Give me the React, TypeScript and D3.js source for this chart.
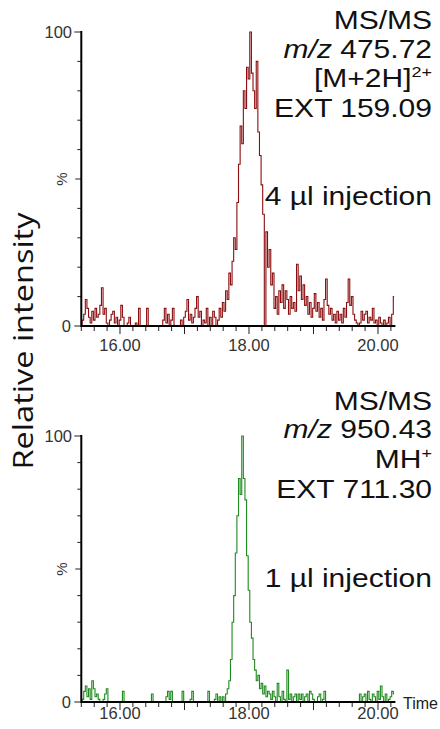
import React from "react"
import * as d3 from "d3"

// scan grid of the chromatogram (min)
const scanStart = 15.4
const scanStep = 0.025

// MS/MS m/z 475.72, % relative intensity per scan
const topIntensity = [
  0, 2, 4, 9, 6, 3, 1, 5, 2, 6, 3, 4, 7, 13, 4, 6, 1, 0, 2, 4,
  5, 1, 3, 0, 2, 7, 3, 0, 0, 1, 3, 0, 0, 0, 1, 0, 6, 0, 0, 0,
  0, 6, 0, 0, 0, 0, 0, 0, 0, 0, 0, 2, 6, 1, 4, 0, 2, 6, 0, 0,
  0, 0, 2, 0, 3, 5, 9, 2, 4, 1, 3, 6, 10, 3, 5, 0, 2, 1, 6, 0,
  3, 0, 5,
  3, 0, 2, 6, 3, 8, 5, 12, 9, 18, 14, 22, 30, 26, 42, 55, 68, 62, 80, 74,
  88, 84, 100, 86, 80, 74, 90, 66, 58, 48, 38, 0,
  32, 20, 26, 14, 18, 6, 10, 4, 12, 8, 14, 6, 12, 9, 4, 10, 6, 8, 5, 21,
  12, 17, 9, 14, 7, 10, 4, 8, 3, 6, 11, 5, 8, 3, 6, 2, 9, 16, 7, 4,
  6, 2, 4, 1, 5, 2, 4, 1, 6, 3, 8, 16, 7, 10, 4, 2, 1, 0, 1, 5,
  2, 4, 5, 1, 3, 2, 6, 1, 2, 0, 3, 1, 0, 2, 0, 1, 3, 0, 4, 10,
]

// MS/MS m/z 950.43
const bottomIntensity = [
  0, 1, 4, 6, 2, 5, 1, 8, 5, 2, 3, 1, 0, 0, 1, 3, 5, 0, 0, 0,
  0, 0, 0, 0, 0, 0, 4, 0, 0, 0, 0, 0, 0, 0, 0, 0, 0, 0, 0, 0,
  0, 0, 0, 0, 3, 0, 0, 0, 0, 0, 0, 0, 0, 2, 4, 1, 4, 0, 0, 0,
  0, 0, 0, 4, 0, 0, 0, 0, 1, 4, 0, 0, 0, 0, 0, 0, 0, 0, 0, 4,
  0, 0, 0, 1, 3, 0, 2, 0,
  2, 0, 3, 5, 8, 16, 30, 40, 56, 70, 84, 78, 100, 84, 76, 55, 42, 30, 24, 16,
  12, 8, 10, 5, 7, 3, 6,
  2, 4, 3, 1, 4, 2, 0, 7, 2, 0, 4, 1, 0, 12, 1, 3, 0, 2, 3, 0,
  3, 1, 3, 0, 2, 3, 0, 4, 3, 1, 0, 0, 2, 3, 0, 1, 4, 0, 0, 0,
  0, 0, 0, 0, 0, 0, 0, 0, 0, 0, 0, 0, 0, 0, 0, 0, 0, 0, 3, 0,
  2, 3, 0, 4, 1, 0, 3, 2, 0, 4, 1, 6, 2, 0, 3, 0, 1, 2, 4, 3,
]

const xLabelTicks = [16, 18, 20]
const xMajorTicks = [16, 17, 18, 19, 20]

const tickFont = "'Liberation Sans', Arial, sans-serif"
const textFont = "'Liberation Sans', Arial, sans-serif"

const x = d3.scaleLinear().domain([15.4, 20.27]).range([81.3, 395.4])

function Panel({ values, color, y0, y100, lines, showTime, labelDy }: any) {
  const y = d3.scaleLinear().domain([0, 100]).range([y0, y100])
  const line = d3.line<number>()
    .x((d, i) => x(scanStart + i * scanStep))
    .y((d) => y(d))
    .curve(d3.curveStep)
  const minor = d3.range(77, 102).map((k) => k / 5)
  const yTicks = d3.range(0, 101, 10)
  const [xa, xb] = x.range()
  return (
    <g>
      <path d={line(values) || ""} fill="none" stroke={color} strokeWidth={1.1} />
      {/* y axis */}
      {yTicks.map((t) => {
        const len = t === 0 || t === 100 ? 7 : t === 50 ? 6 : 4
        return <line key={t} x1={xa - len} x2={xa} y1={y(t)} y2={y(t)} stroke="#222" strokeWidth={1} />
      })}
      <line x1={xa} x2={xa} y1={y(100) - 1} y2={y0 + 1} stroke="#000" strokeWidth={2} />
      <text x={72} y={y(100) + 6} textAnchor="end" fontFamily={tickFont} fontSize={16.5} fill="#333">100</text>
      <text x={71} y={y(0) + 6} textAnchor="end" fontFamily={tickFont} fontSize={16.5} fill="#333">0</text>
      <text transform={`translate(67,${y(50)}) rotate(-90)`} textAnchor="middle" fontFamily={tickFont} fontSize={15} fill="#333">%</text>
      {/* x axis */}
      {minor.map((t) => {
        const major = xMajorTicks.some((m) => Math.abs(m - t) < 1e-6)
        return <line key={t} x1={x(t)} x2={x(t)} y1={y0} y2={y0 + (major ? 8 : 5)} stroke="#222" strokeWidth={1} />
      })}
      <line x1={xa} x2={xb} y1={y0} y2={y0} stroke="#000" strokeWidth={2} />
      {xLabelTicks.map((t) => (
        <text key={t} x={x(t)} y={y0 + labelDy} textAnchor="middle" fontFamily={tickFont} fontSize={16.5} fill="#333">
          {d3.format(".2f")(t)}
        </text>
      ))}
      {showTime && (
        <text x={403} y={y0 + 7} fontFamily={tickFont} fontSize={16} fill="#222">Time</text>
      )}
      {lines.map((l: any, i: number) => (
        <text key={i} transform={`translate(432,${l.y}) scale(1.2,1)`} textAnchor="end" fontFamily={textFont} fontSize={25} fill="#111">
          {l.content}
        </text>
      ))}
    </g>
  )
}

const topLines = [
  { y: 29, content: "MS/MS" },
  { y: 58, content: <><tspan fontStyle="italic">m/z</tspan> 475.72</> },
  { y: 87, content: <>[M+2H]<tspan fontSize={15} dy={-10}>2+</tspan></> },
  { y: 117, content: "EXT 159.09" },
  { y: 205, content: "4 µl injection" },
]

const bottomLines = [
  { y: 410, content: "MS/MS" },
  { y: 438, content: <><tspan fontStyle="italic">m/z</tspan> 950.43</> },
  { y: 468, content: <>MH<tspan fontSize={15} dy={-10}>+</tspan></> },
  { y: 498, content: "EXT 711.30" },
  { y: 587, content: "1 µl injection" },
]

export default function App() {
  return (
    <svg width={440} height={729} style={{ position: "absolute", left: 0, top: 0, background: "#fff" }}>
      <Panel values={topIntensity} color="#8b0d0d" y0={326} y100={32} lines={topLines} labelDy={25} />
      <Panel values={bottomIntensity} color="#1f8a1f" y0={702} y100={436} lines={bottomLines} labelDy={17} showTime />
      <text transform="translate(33,341) rotate(-90)" textAnchor="middle" fontFamily="'Open Sans', sans-serif" fontSize={27}
        textLength={257} lengthAdjust="spacingAndGlyphs" fill="#111">
        Relative intensity
      </text>
    </svg>
  )
}
